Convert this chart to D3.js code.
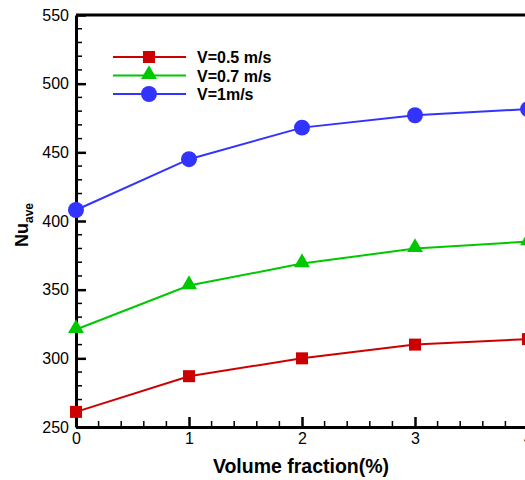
<!DOCTYPE html>
<html>
<head>
<meta charset="utf-8">
<script src="https://cdn.jsdelivr.net/npm/d3@7"></script>
<style>
  html, body { margin: 0; padding: 0; background: #fff; }
  svg { display: block; font-family: "Liberation Sans", Arial, sans-serif; }
</style>
</head>
<body>
<svg id="chart" width="525" height="480"></svg>
<script>
// Average Nusselt number against nanoparticle volume fraction
const volumeFraction = [0, 1, 2, 3, 4];
const nuV05 = [261, 287, 300, 310, 314];
const nuV07 = [321, 353, 369, 380, 385];
const nuV10 = [408, 445, 468, 477, 481.5];
const seriesNames = ["V=0.5 m/s", "V=0.7 m/s", "V=1m/s"];
const xTickValues = [0, 1, 2, 3, 4];
const yTickValues = [250, 300, 350, 400, 450, 500, 550];

const series = [
  { name: seriesNames[0], values: nuV05, color: "#cc0000", marker: "square" },
  { name: seriesNames[1], values: nuV07, color: "#00c800", marker: "triangle" },
  { name: seriesNames[2], values: nuV10, color: "#3333ff", marker: "circle" }
];

const svg = d3.select("#chart");
const plotLeft = 76, plotRight = 528, plotTop = 15, plotBottom = 427;

const x = d3.scaleLinear().domain([0, 4]).range([plotLeft, plotRight]);
const y = d3.scaleLinear().domain([250, 550]).range([plotBottom, plotTop]);

// frame: top border
svg.append("line").attr("x1", plotLeft).attr("x2", 530).attr("y1", plotTop).attr("y2", plotTop)
  .attr("stroke", "#000").attr("stroke-width", 3);

// minor ticks (inward)
const yMinor = d3.range(250, 551, 10).filter(v => v % 50 !== 0);
svg.append("g").selectAll("line").data(yMinor).join("line")
  .attr("x1", plotLeft).attr("x2", plotLeft + 6)
  .attr("y1", d => y(d)).attr("y2", d => y(d))
  .attr("stroke", "#000").attr("stroke-width", 1.5);
const xMinor = d3.range(0, 4.01, 0.2).filter(v => Math.abs(v - Math.round(v)) > 1e-6);
svg.append("g").selectAll("line").data(xMinor).join("line")
  .attr("x1", d => x(d)).attr("x2", d => x(d))
  .attr("y1", plotBottom).attr("y2", plotBottom - 6)
  .attr("stroke", "#000").attr("stroke-width", 1.5);

// major ticks and labels through d3 axes
const yAxis = svg.append("g").attr("transform", `translate(${plotLeft},0)`)
  .call(d3.axisLeft(y).tickValues(yTickValues).tickFormat(d3.format("d"))
    .tickSizeInner(-10).tickSizeOuter(0).tickPadding(7));
const xAxis = svg.append("g").attr("transform", `translate(0,${plotBottom})`)
  .call(d3.axisBottom(x).tickValues(xTickValues).tickFormat(d3.format("d"))
    .tickSizeInner(-10).tickSizeOuter(0).tickPadding(6));
[yAxis, xAxis].forEach(g => {
  g.select(".domain").attr("stroke", "#000").attr("stroke-width", 3);
  g.selectAll(".tick line").attr("stroke", "#000").attr("stroke-width", 2.5);
  g.selectAll(".tick text").attr("fill", "#000").attr("font-size", 16)
    .attr("font-family", "'Liberation Sans', Arial, sans-serif");
});

// axis titles
svg.append("text").attr("x", 301).attr("y", 473).attr("text-anchor", "middle")
  .attr("font-size", 19.5).attr("font-weight", "bold").text("Volume fraction(%)");
const yt = svg.append("text").attr("transform", "translate(28,225) rotate(-90)")
  .attr("text-anchor", "middle").attr("font-weight", "bold");
yt.append("tspan").attr("font-size", 18).text("Nu");
yt.append("tspan").attr("font-size", 12).attr("dy", 5).text("ave");

// marker drawing
const symbolFor = { square: d3.symbolSquare, triangle: d3.symbolTriangle, circle: d3.symbolCircle };
const sizeFor = { square: 144, triangle: 110, circle: 200 };
function drawMarker(g, kind, color) {
  g.append("path")
    .attr("d", d3.symbol().type(symbolFor[kind]).size(sizeFor[kind])())
    .attr("fill", color)
    .attr("transform", kind === "triangle" ? "translate(0,-1)" : null);
}

const line = d3.line().x((d, i) => x(volumeFraction[i])).y(d => y(d));
series.forEach(s => {
  svg.append("path").datum(s.values).attr("d", line)
    .attr("fill", "none").attr("stroke", s.color).attr("stroke-width", 2);
  s.values.forEach((v, i) => {
    const g = svg.append("g").attr("transform", `translate(${x(volumeFraction[i])},${y(v)})`);
    drawMarker(g, s.marker, s.color);
  });
});

// legend
const legend = svg.append("g");
series.forEach((s, i) => {
  const ly = 57 + i * 18.5;
  legend.append("line").attr("x1", 113).attr("x2", 186).attr("y1", ly).attr("y2", ly)
    .attr("stroke", s.color).attr("stroke-width", 2);
  const g = legend.append("g").attr("transform", `translate(149,${ly})`);
  drawMarker(g, s.marker, s.color);
  legend.append("text").attr("x", 197).attr("y", ly + 6)
    .attr("font-size", 16).attr("font-weight", "bold").text(s.name);
});
</script>
</body>
</html>
